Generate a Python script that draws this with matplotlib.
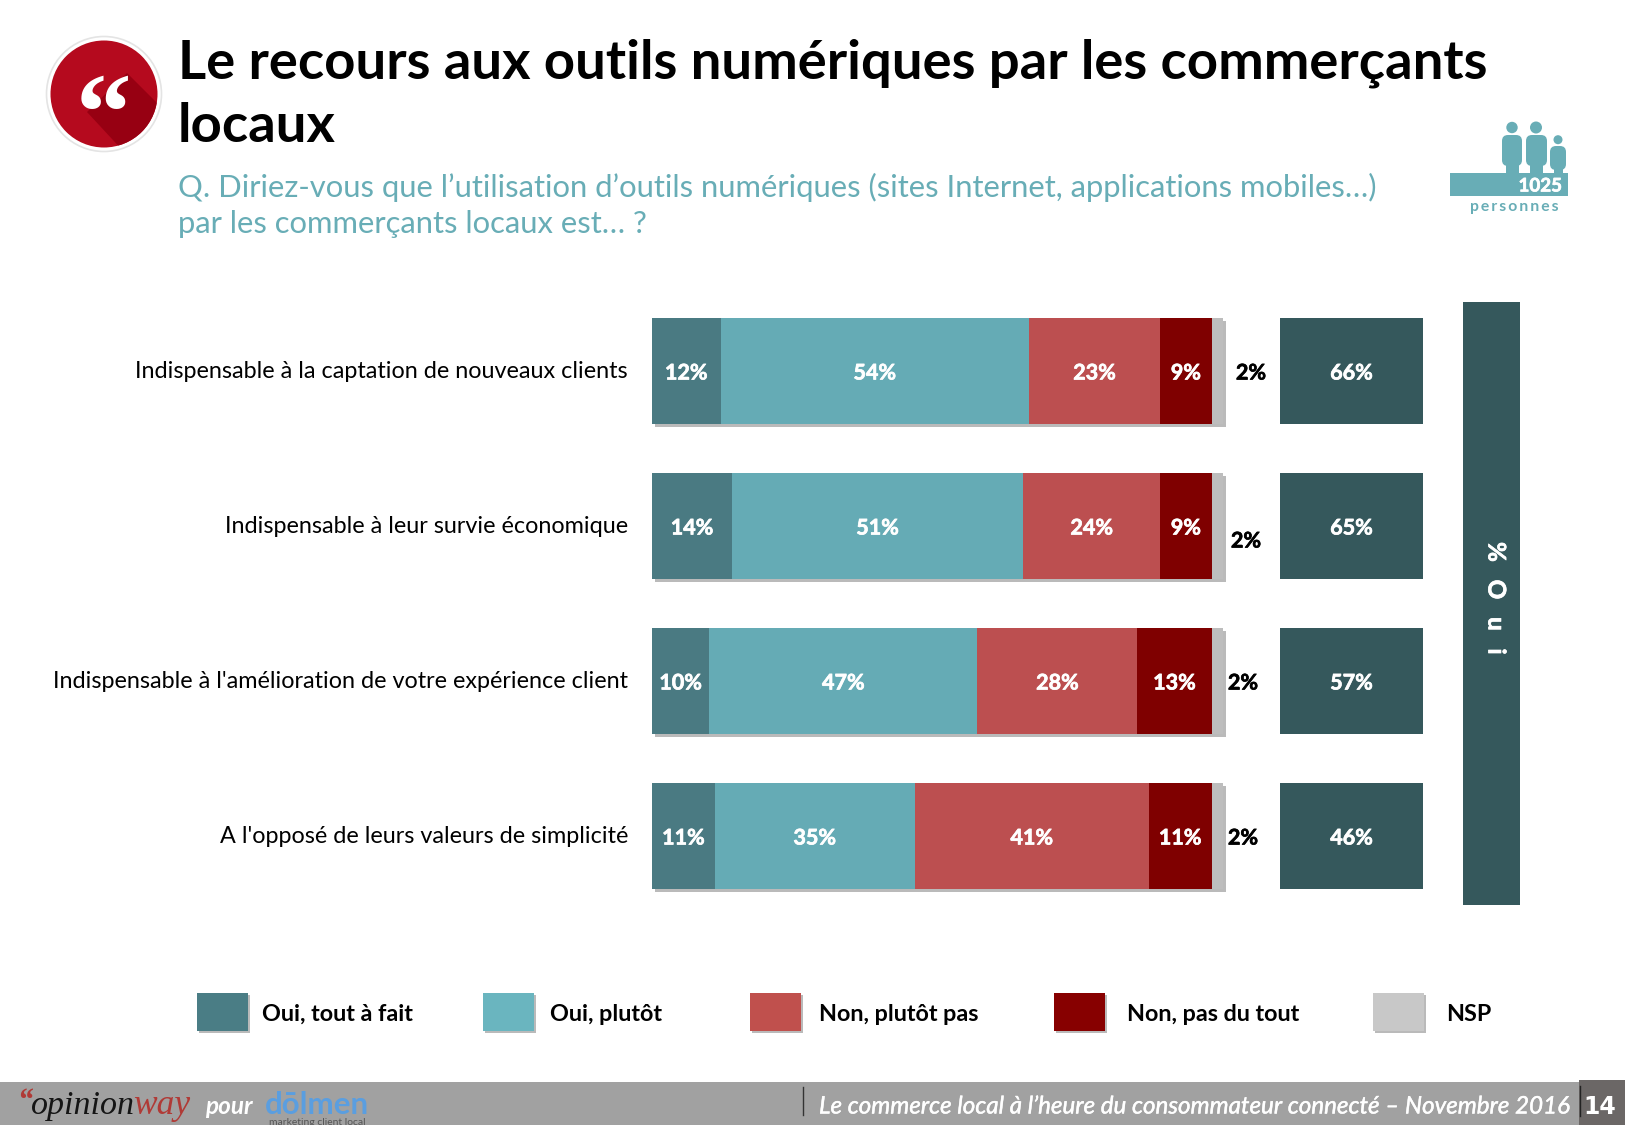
import matplotlib
matplotlib.use("Agg")
import matplotlib.pyplot as plt
import matplotlib.patheffects as pe
from matplotlib.patches import Circle, Polygon, Rectangle, FancyBboxPatch
import numpy as np

plt.rcParams['font.family'] = ['Lato', 'DejaVu Sans']

W, H = 1625, 1125

questions = ["Indispensable à la captation de nouveaux clients",
             "Indispensable à leur survie économique",
             "Indispensable à l'amélioration de votre expérience client",
             "A l'opposé de leurs valeurs de simplicité"]
oui_tout = [12, 14, 10, 11]
oui_plutot = [54, 51, 47, 35]
non_plutot = [23, 24, 28, 41]
non_tout = [9, 9, 13, 11]
nsp = [2, 2, 2, 2]
total_oui = [66, 65, 57, 46]
legend_labels = ["Oui, tout à fait", "Oui, plutôt", "Non, plutôt pas", "Non, pas du tout", "NSP"]

bar_colors = ["#4a7a82", "#65abb5", "#bc4f50", "#7f0000", "#bdbdbd"]
legend_colors = ["#4a7d85", "#6ab5bf", "#c0504d", "#870000", "#c8c8c8"]
teal = "#68adb6"
dark = "#35585c"

fig = plt.figure(figsize=(W / 100, H / 100), dpi=100, facecolor="white")

def add_axes(left, top, right, bottom):
    return fig.add_axes([left / W, 1 - bottom / H, (right - left) / W, (bottom - top) / H])

# page level things are placed in pixels
page = add_axes(0, 0, W, H)
page.set_xlim(0, W)
page.set_ylim(H, 0)
page.axis("off")

thick = [pe.withStroke(linewidth=0.5, foreground="white")]
thick_black = [pe.withStroke(linewidth=0.5, foreground="black")]

# quote badge
page.add_patch(Circle((104, 94), 57.5, fc="white", ec="#e4e4e4", lw=1.2))
badge = Circle((104, 94), 53.5, fc="#b50a1e", ec="none")
page.add_patch(badge)
fold = Polygon([(87, 112), (127, 73), (166, 112), (125, 153)], fc="#970012", ec="none")
page.add_patch(fold)
fold.set_clip_path(badge)
page.text(103, 122, "“", fontsize=80, color="white", ha="center", va="center",
          family="Liberation Serif", weight="bold")

# title
page.text(178, 63, "Le recours aux outils numériques par les commerçants", fontsize=39.2, weight="bold",
          color="black", va="center")
page.text(178, 126, "locaux", fontsize=39.2, weight="bold", color="black", va="center")
page.text(178, 187, "Q. Diriez-vous que l’utilisation d’outils numériques (sites Internet, applications mobiles…)",
          fontsize=22.3, color=teal, va="center")
page.text(178, 223.5, "par les commerçants locaux est… ?", fontsize=22.3, color=teal, va="center")

# people icon
page.add_patch(Rectangle((1450, 173), 118, 23, fc=teal, ec="none"))
for hx, hy, hr, x0, x1, y0, y1, n0, n1 in [(1512, 127.5, 5.7, 1502, 1522, 135, 166, 1506, 1519),
                                           (1536, 127.5, 6, 1526, 1547, 135, 166, 1530, 1543),
                                           (1558, 139.7, 4.5, 1550, 1566, 146, 170, 1554, 1563)]:
    page.add_patch(Circle((hx, hy), hr, fc=teal, ec="none"))
    page.add_patch(FancyBboxPatch((x0 + 5, y0 + 5), x1 - x0 - 10, y1 - y0 - 10,
                                  boxstyle="round,pad=5,rounding_size=6", fc=teal, ec="none"))
    page.add_patch(Rectangle((n0, y1 - 5), n1 - n0, 173 - y1 + 6, fc=teal, ec="none"))
page.text(1562, 186, "1025", fontsize=13.5, weight="bold", color="white", ha="right", va="center",
          path_effects=thick)
page.text(1514, 206.5, "p\u2009e\u2009r\u2009s\u2009o\u2009n\u2009n\u2009e\u2009s", fontsize=11.3, weight="bold",
          color=teal, ha="center", va="center")

# stacked bars
row_top = 293.5
row_bottom = 913.5
ax = add_axes(652, row_top, 1223, row_bottom)
ax.patch.set_alpha(0)
y = np.arange(len(questions))
series = [oui_tout, oui_plutot, non_plutot, non_tout, nsp]
left = np.zeros(len(questions))
shadow = [pe.withSimplePatchShadow(offset=(2.5, -2.5), shadow_rgbFace="#666666", alpha=0.45)]
for values, color, i in zip(series, bar_colors, range(5)):
    bars = ax.barh(y, values, left=left, height=106 / 155, color=color, linewidth=0, zorder=2)
    for b in bars:
        b.set_path_effects(shadow)
        b.set_clip_on(False)
    if i < 4:
        for yi, v, l in zip(y, values, left):
            ax.text(l + v / 2, yi + 2 / 155, f"{v}%", color="white", fontsize=15.5, weight="bold",
                    ha="center", va="center", zorder=3, path_effects=thick)
    left = left + np.array(values)
ax.set_xlim(0, 100)
ax.set_ylim(len(questions) - 0.5, -0.5)
ax.axis("off")

for yi, q in zip(y, questions):
    page.text(628, row_top + 155 * (yi + 0.5) + 0.5, q, fontsize=16.8, color="black", ha="right", va="center")

# NSP labels sit outside the bars, slightly different on each row
nsp_x = [1251, 1246, 1243, 1243]
nsp_dy = [2, 15, 2, 2]
for yi, v, nx, dy in zip(y, nsp, nsp_x, nsp_dy):
    page.text(nx, row_top + 155 * (yi + 0.5) + dy, f"{v}%", fontsize=15.5, weight="bold", color="black",
              ha="center", va="center", path_effects=thick_black)

# total column
ax2 = add_axes(1280, row_top, 1423, row_bottom)
ax2.patch.set_alpha(0)
ax2.barh(y, [1] * len(y), height=106 / 155, color=dark, linewidth=0)
for yi, v in zip(y, total_oui):
    ax2.text(0.5, yi + 2 / 155, f"{v}%", color="white", fontsize=15.5, weight="bold", ha="center", va="center",
             path_effects=thick)
ax2.set_xlim(0, 1)
ax2.set_ylim(len(y) - 0.5, -0.5)
ax2.axis("off")

page.add_patch(Rectangle((1463, 302), 57, 603, fc=dark, ec="none"))
page.text(1496, 598, "%   O   u   i", rotation=-90, color="white", fontsize=17.5, weight="bold", ha="center",
          va="center", path_effects=thick)

# legend
swatch_x = [197, 483, 750, 1054, 1373]
text_x = [262, 550, 819, 1127, 1446]
for sx, tx, c, lab in zip(swatch_x, text_x, legend_colors, legend_labels):
    r = Rectangle((sx, 993), 51, 38, fc=c, ec="none")
    r.set_path_effects([pe.withSimplePatchShadow(offset=(1.5, -1.5), shadow_rgbFace="#777777", alpha=0.5)])
    page.add_patch(r)
    page.text(tx, 1014.5, lab, fontsize=16.85, weight="bold", color="black", va="center")

# footer
page.add_patch(Rectangle((0, 1082), W, 43, fc="#a1a1a1", ec="none"))
page.add_patch(Rectangle((1579, 1080), W - 1579, 45, fc="#6b6766", ec="none"))
page.plot([803, 803], [1087, 1115], color="#333333", lw=1)
page.plot([1580, 1580], [1086, 1116], color="#222222", lw=1)
page.text(17, 1103, "“", fontsize=22, family="Liberation Serif", style="italic", weight="bold", color="#b03a36",
          va="center")
page.text(31, 1106, "opinion", fontsize=24.5, family="Liberation Serif", style="italic", color="#151515", va="center")
page.text(133, 1106, "way", fontsize=25.5, family="Liberation Serif", style="italic", color="#b03a36", va="center")
page.text(205, 1107, "pour", fontsize=17.5, style="italic", weight="bold", color="white", va="center")
page.text(265, 1105, "dōlmen", fontsize=22.5, weight="bold", color="#5a9ee0", va="center")
page.text(366, 1122.5, "marketing client local", fontsize=7.5, color="#555555", ha="right", va="center")
page.text(819, 1107, "Le commerce local à l’heure du consommateur connecté – Novembre 2016", fontsize=17.4,
          style="italic", color="white", va="center", path_effects=[pe.withStroke(linewidth=0.3, foreground="white")])
page.text(1600, 1107, "14", fontsize=17, weight="bold", color="white", ha="center", va="center",
          family="DejaVu Sans")

fig.savefig("out.png", dpi=100, facecolor="white")
